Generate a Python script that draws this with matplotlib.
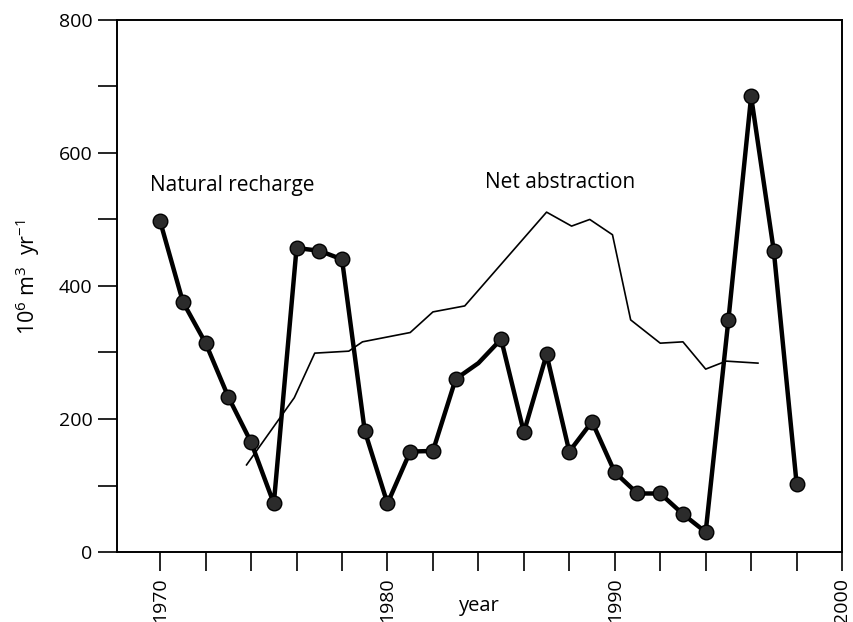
"""
Natural recharge vs net abstraction chart
"""
import matplotlib
matplotlib.use('Agg')
import matplotlib.pyplot as plt
from matplotlib.ticker import MultipleLocator

plt.rcParams['font.family'] = ['Open Sans', 'DejaVu Sans']
plt.rcParams['mathtext.default'] = 'regular'

# natural recharge (one value a year, 1984 drawn without marker)
recharge_years = list(range(1970, 1999))
recharge_vals = [497, 376, 314, 233, 165, 73, 457, 453, 440, 182,
                 73, 151, 152, 260, 284, 320, 180, 297, 151, 196,
                 120, 88, 88, 57, 30, 349, 685, 452, 103]
no_marker_years = [1984]

# net abstraction (thin line)
abstr_years = [1973.8, 1975.9, 1976.8, 1978.3, 1978.9, 1981.0, 1982.0, 1983.4,
               1987.0, 1988.1, 1988.9, 1989.9, 1990.7, 1992.0, 1993.0, 1994.0,
               1994.9, 1996.3]
abstr_vals = [131, 232, 299, 302, 316, 330, 361, 370,
              511, 490, 500, 477, 349, 314, 316, 275,
              287, 284]

fig = plt.figure(figsize=(8.54, 6.22), dpi=100)
ax = fig.add_axes([0.137, 0.1125, 0.849, 0.8555])

# thin line first, recharge on top
ax.plot(abstr_years, abstr_vals, color='black', linewidth=1.2)

marks = [i for i, y in enumerate(recharge_years) if y not in no_marker_years]
ax.plot(recharge_years, recharge_vals, color='black', linewidth=3.2,
        marker='o', markersize=10.5, markerfacecolor='#2b2b2b',
        markeredgecolor='black', markeredgewidth=1.0, markevery=marks)

ax.text(1969.55, 543, 'Natural recharge', fontsize=15, ha='left', va='baseline')
ax.text(1984.3, 547, 'Net abstraction', fontsize=15, ha='left', va='baseline')

# axes
ax.set_xlim(1968.1, 2000)
ax.set_ylim(0, 800)
ax.xaxis.set_major_locator(MultipleLocator(10))
ax.xaxis.set_minor_locator(MultipleLocator(2))
ax.yaxis.set_major_locator(MultipleLocator(200))
ax.yaxis.set_minor_locator(MultipleLocator(100))
ax.tick_params(axis='both', which='both', direction='out', length=13.5,
               width=1.2, labelsize=14)
ax.tick_params(axis='x', which='major', labelrotation=90, pad=5)
ax.tick_params(axis='y', which='major', pad=4)

for s in ax.spines.values():
    s.set_linewidth(1.4)

ax.set_xlabel('year', fontsize=14.5)
ax.xaxis.set_label_coords(0.5, -0.083)
ax.set_ylabel('$10^6$ m$^3$  yr$^{-1}$', fontsize=15.5)
ax.yaxis.set_label_coords(-0.103, 0.517)

plt.savefig('out.png', dpi=100, facecolor='white')
plt.close()
